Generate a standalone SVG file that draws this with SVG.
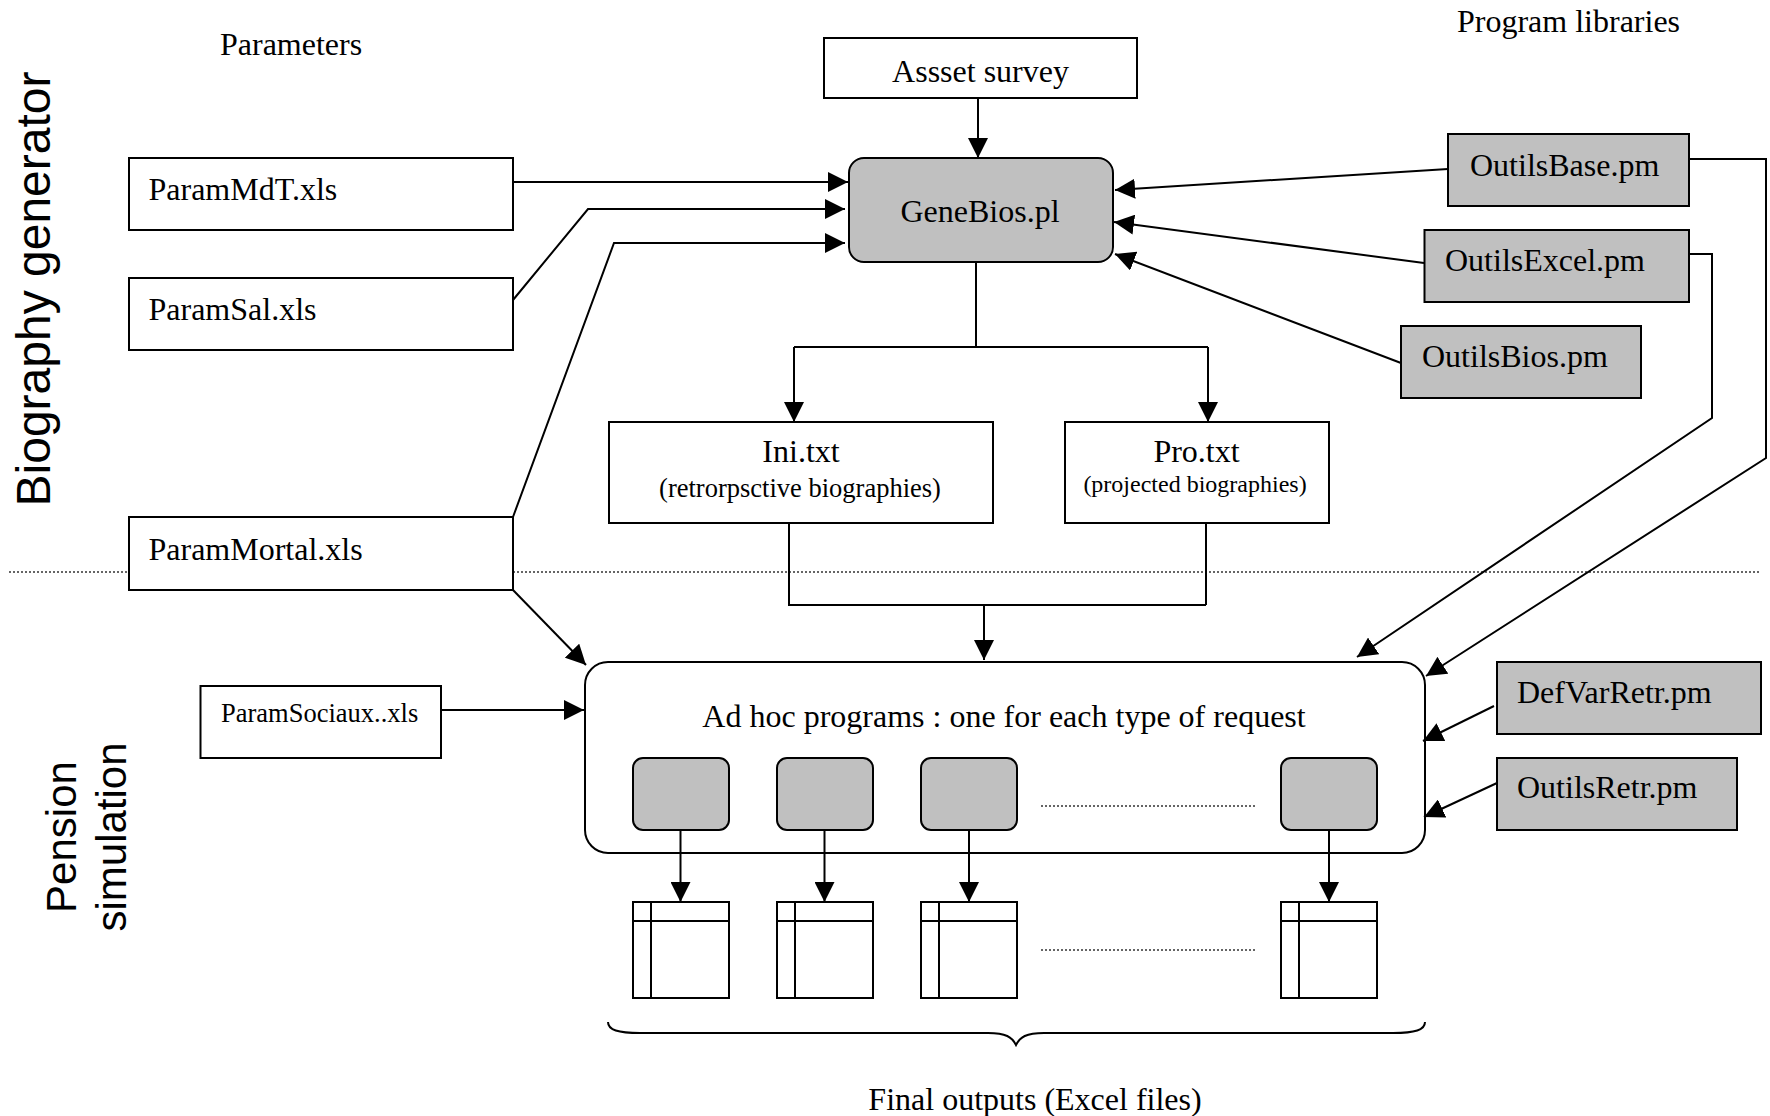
<svg xmlns="http://www.w3.org/2000/svg" width="1770" height="1116" viewBox="0 0 1770 1116">
<defs>
<style>
.box{fill:#fff;stroke:#000;stroke-width:2}
.gray{fill:#c0c0c0;stroke:#000;stroke-width:2}
.t{font-family:"Liberation Serif","Times New Roman",serif;font-size:32px;fill:#000}
.c{text-anchor:middle}
.s{font-family:"Liberation Sans",Arial,sans-serif;fill:#000;text-anchor:middle}
.ln{fill:none;stroke:#000;stroke-width:2}
.dot{fill:none;stroke:#333;stroke-width:1.5;stroke-dasharray:2 2}
</style>
<marker id="ah" markerUnits="userSpaceOnUse" markerWidth="20" markerHeight="20" refX="20" refY="10" orient="auto">
<path d="M0,0 L20,10 L0,20 z" fill="#000"/>
</marker>
</defs>
<rect width="1770" height="1116" fill="#fff"/>

<g id="labels">
<text class="t" x="220" y="55">Parameters</text>
<text class="t" x="1457" y="32">Program libraries</text>
<text class="s" style="font-size:48px" transform="translate(50,289) rotate(-90)">Biography generator</text>
<text class="s" style="font-size:42px" transform="translate(76,837) rotate(-90)">Pension</text>
<text class="s" style="font-size:42px" transform="translate(126,837) rotate(-90)">simulation</text>
<text class="t c" x="1035" y="1110">Final outputs (Excel files)</text>
</g>

<line id="separator" class="dot" x1="9" y1="572" x2="1761" y2="572"/>

<g id="node-asset"><rect class="box" x="824" y="38" width="313" height="60"/><text class="t c" x="980.5" y="81.5">Assset survey</text></g>
<g id="node-genebios"><rect class="gray" x="849" y="158" width="264" height="104" rx="15"/><text class="t c" x="980" y="222">GeneBios.pl</text></g>
<g id="node-parammdt"><rect class="box" x="129" y="158" width="384" height="72"/><text class="t" x="148.5" y="200">ParamMdT.xls</text></g>
<g id="node-paramsal"><rect class="box" x="129" y="278" width="384" height="72"/><text class="t" x="148.5" y="320">ParamSal.xls</text></g>
<g id="node-parammortal"><rect class="box" x="129" y="517" width="384" height="73"/><text class="t" x="148.5" y="560">ParamMortal.xls</text></g>
<g id="node-paramsociaux"><rect class="box" x="200.5" y="686" width="240.5" height="72"/><text class="t" x="221" y="722" style="font-size:26.5px">ParamSociaux..xls</text></g>
<g id="node-outilsbase"><rect class="gray" x="1448" y="134" width="241" height="72"/><text class="t" x="1470" y="176">OutilsBase.pm</text></g>
<g id="node-outilsexcel"><rect class="gray" x="1424.5" y="230" width="264.5" height="72"/><text class="t" x="1445" y="271">OutilsExcel.pm</text></g>
<g id="node-outilsbios"><rect class="gray" x="1401" y="326" width="240" height="72"/><text class="t" x="1422" y="367">OutilsBios.pm</text></g>
<g id="node-ini"><rect class="box" x="609" y="422" width="384" height="101"/><text class="t c" x="801" y="462">Ini.txt</text><text class="t c" x="800" y="497" style="font-size:26.5px">(retrorpsctive biographies)</text></g>
<g id="node-pro"><rect class="box" x="1065" y="422" width="264" height="101"/><text class="t c" x="1196.5" y="462">Pro.txt</text><text class="t c" x="1195" y="492" style="font-size:24px">(projected biographies)</text></g>
<g id="node-defvarretr"><rect class="gray" x="1497" y="662" width="264" height="72"/><text class="t" x="1517" y="703">DefVarRetr.pm</text></g>
<g id="node-outilsretr"><rect class="gray" x="1497" y="758" width="240" height="72"/><text class="t" x="1517" y="798">OutilsRetr.pm</text></g>

<g id="node-adhoc">
<rect class="box" x="585" y="662" width="840" height="191" rx="23"/>
<text class="t c" x="1004" y="727">Ad hoc programs : one for each type of request</text>
<rect class="gray" x="633" y="758" width="96" height="72" rx="10"/>
<rect class="gray" x="777" y="758" width="96" height="72" rx="10"/>
<rect class="gray" x="921" y="758" width="96" height="72" rx="10"/>
<rect class="gray" x="1281" y="758" width="96" height="72" rx="10"/>
<line class="dot" x1="1041" y1="806" x2="1256" y2="806"/>
</g>

<g id="node-outputs">
<g class="ln">
<rect x="633" y="902" width="96" height="96"/><path d="M633,921 H729 M651,902 V998"/>
<rect x="777" y="902" width="96" height="96"/><path d="M777,921 H873 M795,902 V998"/>
<rect x="921" y="902" width="96" height="96"/><path d="M921,921 H1017 M939,902 V998"/>
<rect x="1281" y="902" width="96" height="96"/><path d="M1281,921 H1377 M1299,902 V998"/>
</g>
<line class="dot" x1="1041" y1="950" x2="1256" y2="950"/>
<path class="ln" d="M608,1022 C608,1030 618,1033 640,1033 L988,1033 C1006,1033 1012,1037 1016,1045 C1020,1037 1026,1033 1044,1033 L1393,1033 C1415,1033 1425,1030 1425,1022"/>
</g>

<g id="connectors" class="ln">
<path d="M978,98 L978,158" marker-end="url(#ah)"/>
<path d="M513,182 L848,182" marker-end="url(#ah)"/>
<path d="M513,300 L588,209 L845,209" marker-end="url(#ah)"/>
<path d="M513,517 L614,243 L845,243" marker-end="url(#ah)"/>
<path d="M1448,169 L1115,190" marker-end="url(#ah)"/>
<path d="M1424,263 L1114,222" marker-end="url(#ah)"/>
<path d="M1401,363 L1115,254" marker-end="url(#ah)"/>
<path d="M976,262 L976,348 M794,347 L1208,347"/>
<path d="M794,347 L794,422" marker-end="url(#ah)"/>
<path d="M1208,347 L1208,422" marker-end="url(#ah)"/>
<path d="M789,523 L789,606 M1206,523 L1206,605 M789,605 L1206,605"/>
<path d="M984,605 L984,660" marker-end="url(#ah)"/>
<path d="M513,590 L586,665" marker-end="url(#ah)"/>
<path d="M441,710 L584,710" marker-end="url(#ah)"/>
<path d="M1689,159 L1766,159 L1766,458 L1426,676" marker-end="url(#ah)"/>
<path d="M1689,254 L1712,254 L1712,418 L1357,657" marker-end="url(#ah)"/>
<path d="M1494,706 L1423,741" marker-end="url(#ah)"/>
<path d="M1497,783 L1424,817" marker-end="url(#ah)"/>
<path d="M680.5,830 L680.5,902" marker-end="url(#ah)"/>
<path d="M824.5,830 L824.5,902" marker-end="url(#ah)"/>
<path d="M969,830 L969,902" marker-end="url(#ah)"/>
<path d="M1329,830 L1329,902" marker-end="url(#ah)"/>
</g>
</svg>
